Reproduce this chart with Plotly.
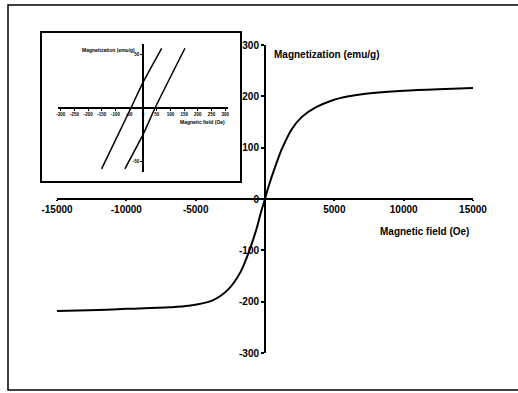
import plotly.graph_objects as go

# ---- main curve data (Magnetic field Oe, Magnetization emu/g) ----
field_main = [-15000, -12000, -10000, -6880, -5500, -3820, -2610, -1760, -1160, -630, -240,
              0, 240, 725, 1210, 1930, 2660, 3620, 4830, 6040, 7250, 10000, 12500, 15000]
magn_main = [-218, -216, -214, -211, -208, -198, -175, -142, -103, -60, -21,
             0, 23, 62, 97, 136, 160, 178, 192, 200, 205, 211, 214, 216]

# ---- inset (low-field hysteresis) data ----
inset_field_a = [-151, -44, 0, 68]
inset_magn_a = [-57, 0, 24, 56]
inset_field_b = [-66, 0, 44, 153]
inset_magn_b = [-57, -25, 0, 56]

main_xticks = [-15000, -10000, -5000, 5000, 10000, 15000]
main_yticks = [-300, -200, -100, 0, 100, 200, 300]
inset_xticks = [-300, -250, -200, -150, -100, -50, 0, 50, 100, 150, 200, 250, 300]
inset_yticks = [-50, 50]

W, H = 518, 393
def px(x): return x / W
def py(y): return 1 - y / H

FONT = "Arial, Liberation Sans, sans-serif"

fig = go.Figure()
fig.add_trace(go.Scatter(x=field_main, y=magn_main, mode="lines", line=dict(color="black", width=2, shape="spline", smoothing=0.8),
                         xaxis="x", yaxis="y", showlegend=False, hoverinfo="skip"))
fig.add_trace(go.Scatter(x=inset_field_a, y=inset_magn_a, mode="lines", line=dict(color="black", width=1.5, shape="spline", smoothing=0.5),
                         xaxis="x2", yaxis="y2", showlegend=False, hoverinfo="skip"))
fig.add_trace(go.Scatter(x=inset_field_b, y=inset_magn_b, mode="lines", line=dict(color="black", width=1.5, shape="spline", smoothing=0.5),
                         xaxis="x2", yaxis="y2", showlegend=False, hoverinfo="skip"))

xd = [px(57), px(473)]
yd = [py(353), py(45)]
x2d = [px(58), px(228)]
y2d = [py(172), py(44)]

axis_common = dict(showgrid=False, zeroline=False, showline=True, linecolor="black", ticks="outside",
                   tickcolor="black", fixedrange=True, automargin=False)

fig.update_layout(
    width=W, height=H, margin=dict(l=0, r=0, t=0, b=0, autoexpand=False),
    paper_bgcolor="white", plot_bgcolor="rgba(0,0,0,0)",
    font=dict(family=FONT, color="black"),
    xaxis=dict(domain=xd, range=[-15000, 15000], anchor="free", position=(yd[0] + yd[1]) / 2,
               tickvals=main_xticks, ticktext=[str(v) for v in main_xticks], linewidth=2, ticklen=1, tickwidth=1.5,
               tickfont=dict(size=10, family=FONT, weight="bold"), **axis_common),
    yaxis=dict(domain=yd, range=[-300, 300], anchor="free", position=(xd[0] + xd[1]) / 2,
               tickvals=main_yticks, ticktext=[str(v) for v in main_yticks], linewidth=2, ticklen=3, tickwidth=1.5,
               tickfont=dict(size=10, family=FONT, weight="bold"), **axis_common),
    xaxis2=dict(domain=x2d, range=[-310, 310], anchor="free", position=(y2d[0] + y2d[1]) / 2,
                tickvals=inset_xticks, ticktext=[str(v) for v in inset_xticks], linewidth=2, ticklen=2, tickwidth=1,
                tickfont=dict(size=4.5, family=FONT, weight="bold"), **axis_common),
    yaxis2=dict(domain=y2d, range=[-60, 60], anchor="free", position=(x2d[0] + x2d[1]) / 2,
                tickvals=inset_yticks, ticktext=[str(v) for v in inset_yticks], linewidth=1.5, ticklen=2, tickwidth=1,
                tickfont=dict(size=4.5, family=FONT, weight="bold"), **axis_common),
    shapes=[
        # outer frame
        dict(type="rect", xref="paper", yref="paper", x0=px(8), x1=px(530), y0=py(390), y1=py(5),
             line=dict(color="black", width=1.5), layer="below"),
        # inset frame
        dict(type="rect", xref="paper", yref="paper", x0=px(41), x1=px(241), y0=py(182), y1=py(32),
             line=dict(color="black", width=2), fillcolor="white", layer="below"),
    ],
    annotations=[
        dict(text="Magnetization (emu/g)", xref="paper", yref="paper", x=px(272), y=py(55), xanchor="left", yanchor="middle",
             showarrow=False, font=dict(size=10, family=FONT, weight="bold")),
        dict(text="Magnetic field (Oe)", xref="paper", yref="paper", x=px(471), y=py(232), xanchor="right", yanchor="middle",
             showarrow=False, font=dict(size=10, family=FONT, weight="bold")),
        dict(text="Magnetization (emu/g)", xref="paper", yref="paper", x=px(137), y=py(50), xanchor="right", yanchor="middle",
             showarrow=False, font=dict(size=5, family=FONT, weight="bold")),
        dict(text="Magnetic field (Oe)", xref="paper", yref="paper", x=px(227), y=py(122), xanchor="right", yanchor="middle",
             showarrow=False, font=dict(size=5, family=FONT, weight="bold")),
    ],
)

fig.write_html("out.html")
